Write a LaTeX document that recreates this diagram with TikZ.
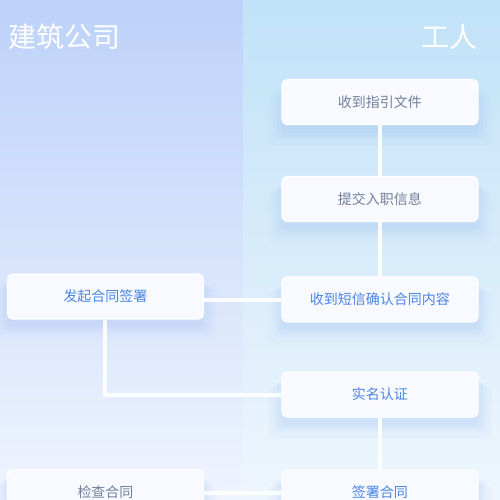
\documentclass[tikz,border=0pt]{standalone}
\usepackage{fontspec}
\setmainfont{Noto Sans CJK SC}
\usepackage{tikz}
\usetikzlibrary{positioning,calc,shadows}
\definecolor{lefttop}{HTML}{BDD2F9}
\definecolor{leftbot}{HTML}{EFF4FE}
\definecolor{righttop}{HTML}{C1E2F8}
\definecolor{rightbot}{HTML}{EEF6FD}
\definecolor{cardfill}{HTML}{F8FAFF}
\definecolor{textgray}{HTML}{72809A}
\definecolor{textblue}{HTML}{4A84E4}
\definecolor{shadowblue}{HTML}{9DBDF2}
\tikzset{
  % --- process cards, soft bluish shadow built from a few layers ---
  card/.style={draw=white, line width=0.6pt, rounded corners=2.5pt, fill=cardfill,
               minimum width=98pt, minimum height=22.5pt, inner sep=0pt,
               font=\fontsize{7}{8}\selectfont,
               general shadow={fill=shadowblue, opacity=0.06, shadow yshift=-8pt, shadow scale=1.14},
               general shadow={fill=shadowblue, opacity=0.08, shadow yshift=-6pt, shadow scale=1.09},
               general shadow={fill=shadowblue, opacity=0.10, shadow yshift=-5pt, shadow scale=1.05},
               general shadow={fill=shadowblue, opacity=0.12, shadow yshift=-4pt, shadow scale=1.01}},
  cardgray/.style={card, text=textgray},
  cardblue/.style={card, text=textblue},
  % --- white connectors ---
  link/.style={draw=white, line width=2pt, opacity=0.9},
  % --- lane titles ---
  lanetitle/.style={text=white, font=\fontsize{14}{16}\selectfont, inner sep=0pt},
}

\begin{document}
\begin{tikzpicture}[x=0.5pt, y=-0.5pt]
  \useasboundingbox (0,0) rectangle (500,500);
  \clip (0,0) rectangle (500,500);

  % --- two swim lanes ---
  \shade[top color=lefttop, bottom color=leftbot] (0,0) rectangle (243,500);
  \shade[top color=righttop, bottom color=rightbot] (243,0) rectangle (500,500);
  \node[lanetitle, anchor=west] (company) at (8,37) {建筑公司};
  \node[lanetitle, anchor=east] (worker) at (478,37) {工人};

  % --- worker lane ---
  \node[cardgray] (guide)   at (380,102)   {收到指引文件};
  \node[cardgray] (submit)  at (380,199)   {提交入职信息};
  \node[cardblue] (sms)     at (380,299.5) {收到短信确认合同内容};
  \node[cardblue] (verify)  at (380,394.5) {实名认证};
  \node[cardblue] (sign)    at (380,492.5) {签署合同};

  % --- company lane ---
  \node[cardblue] (start)   at (105.5,296.5) {发起合同签署};
  \node[cardgray] (check)   at (105.5,492.5) {检查合同};

  % --- connectors ---
  \draw[link] (guide.south) -- (submit.north);
  \draw[link] (submit.south) -- (sms.north);
  \draw[link] (start.east |- sms) -- (sms.west);
  \draw[link] (start.south) |- (verify.west);
  \draw[link] (verify.south) -- (sign.north);
  \draw[link] (check.east |- sign) -- (sign.west);
\end{tikzpicture}
\end{document}
